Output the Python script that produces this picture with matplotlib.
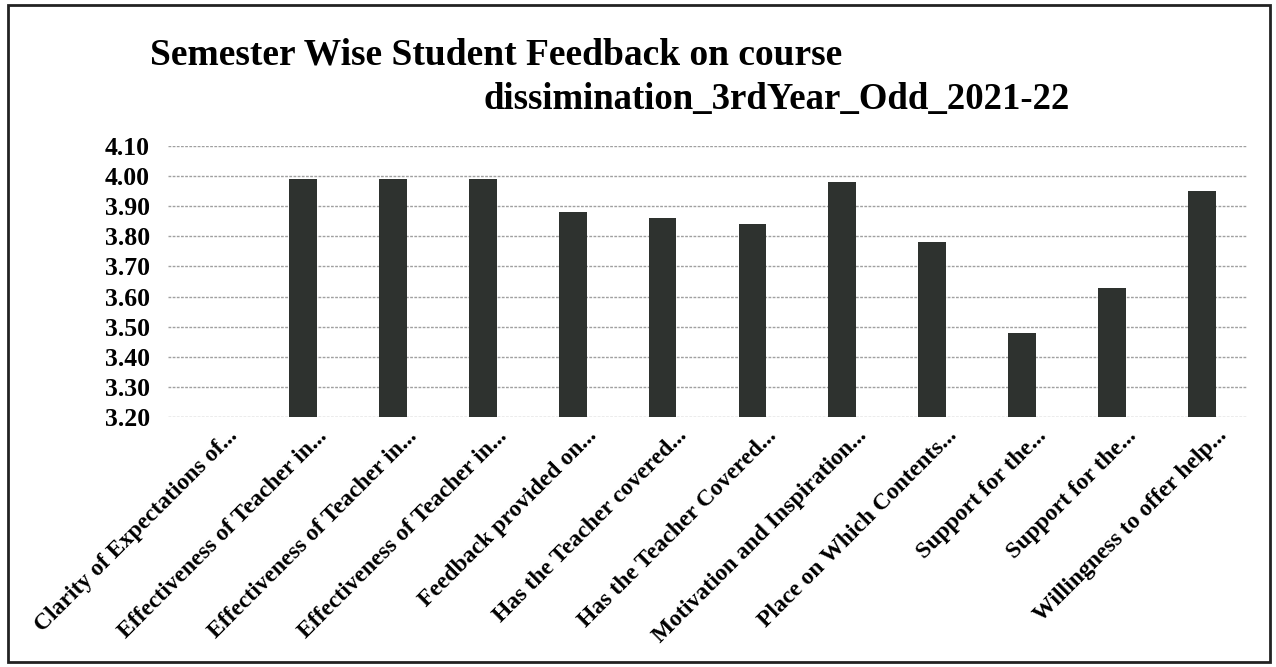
import matplotlib
matplotlib.use("Agg")
import matplotlib.pyplot as plt
from matplotlib.patches import Rectangle
from matplotlib.transforms import ScaledTranslation

# data
labels = ["Clarity of Expectations of...", "Effectiveness of Teacher in...",
          "Effectiveness of Teacher in...", "Effectiveness of Teacher in...",
          "Feedback provided on...", "Has the Teacher covered...",
          "Has the Teacher Covered...", "Motivation and Inspiration...",
          "Place on Which Contents...", "Support for the...",
          "Support for the...", "Willingness to offer help..."]
scores = [3.19, 3.99, 3.99, 3.99, 3.88, 3.86, 3.84, 3.98, 3.78, 3.48, 3.63, 3.95]
yticks = [3.20, 3.30, 3.40, 3.50, 3.60, 3.70, 3.80, 3.90, 4.00, 4.10]

plt.rcParams['font.family'] = ['Liberation Serif', 'DejaVu Serif']

W, H = 1276, 667
fig = plt.figure(figsize=(W / 100, H / 100), dpi=100)
fig.patch.set_facecolor('white')

# outer frame of the chart box
fig.patches.append(Rectangle((8 / W, 5 / H), (1270 - 8) / W, (662 - 5) / H,
                             transform=fig.transFigure, fill=False,
                             edgecolor='#222222', linewidth=2))

ax = fig.add_axes([168 / W, 1 - 417 / H, (1247 - 168) / W, (417 - 146) / H])
x = range(len(labels))
ax.bar(x, scores, width=0.31, color='#2e322f', zorder=3)
ax.set_ylim(3.2, 4.1)
ax.set_xlim(-0.5, len(labels) - 0.5)
ax.set_yticks(yticks)
ax.set_yticklabels([f"{v:.2f}" for v in yticks], fontsize=18.5, fontweight='bold')
ax.set_xticks(list(x))
ax.set_xticklabels(labels, rotation=45, ha='right', rotation_mode='anchor',
                   fontsize=17, fontweight='bold')
ax.tick_params(axis='y', length=0, pad=13)
ax.tick_params(axis='x', length=0, pad=6)
shift = ScaledTranslation(14 / 100, 0, fig.dpi_scale_trans)
for t in ax.get_xticklabels():
    t.set_transform(t.get_transform() + shift)
for s in ax.spines.values():
    s.set_visible(False)
ax.grid(axis='y', color='#a0a0a0', linewidth=1, linestyle=(0, (2, 1)), zorder=0)

fig.text(150 / W, 1 - 55 / H, "Semester Wise Student Feedback on course",
         fontsize=27, fontweight='bold', va='center', ha='left')
fig.text(1070 / W, 1 - 100 / H, "dissimination_3rdYear_Odd_2021-22",
         fontsize=26.5, fontweight='bold', va='center', ha='right')

fig.savefig("out.png", dpi=100, facecolor='white')
